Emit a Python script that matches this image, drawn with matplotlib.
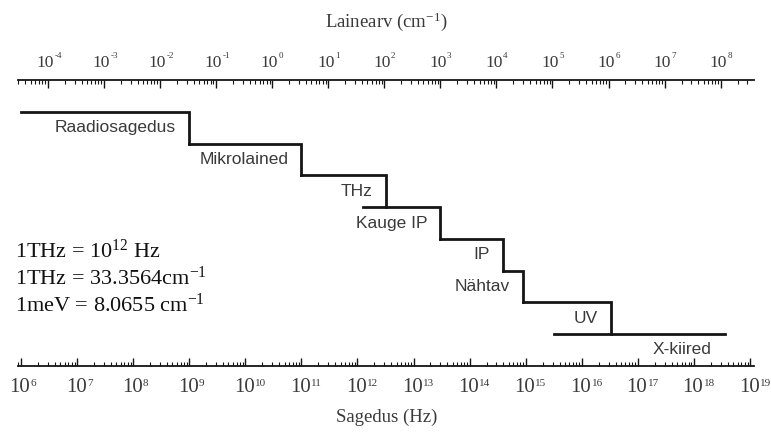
import numpy as np
import matplotlib
matplotlib.use('Agg')
import matplotlib.pyplot as plt
from matplotlib.ticker import LogLocator, NullFormatter

# spectrum bands: name, start / end frequency (Hz), step level
bands = ['Raadiosagedus', 'Mikrolained', 'THz', 'Kauge IP', 'IP', 'Nähtav', 'UV', 'X-kiired']
f_start = [1e6, 1e9, 1e11, 1.25e12, 3e13, 4e14, 9e14, 3.2e15]
f_end = [1e9, 1e11, 3.2e12, 3e13, 4e14, 9e14, 3.3e16, 3.5e18]
level = [0, 1, 2, 3, 4, 5, 6, 7]

# decades shown on the two axes
hz_decades = np.arange(6, 20)
cm_decades = np.arange(-4, 9)

notes = [r'1THz = $\mathregular{10^{12}}$ Hz',
         r'1THz = 33.3564cm$^{\mathregular{-1}}$',
         r'1meV = 8.0655 cm$^{\mathregular{-1}}$']

C_CM = 2.998e10  # Hz per cm^-1
TXT = '#3a3a3a'
LINE = '#151515'

plt.rcParams['font.family'] = 'Liberation Serif'
plt.rcParams['mathtext.fontset'] = 'custom'
plt.rcParams['mathtext.rm'] = 'Liberation Serif'
plt.rcParams['mathtext.it'] = 'Liberation Serif:italic'
plt.rcParams['mathtext.bf'] = 'Liberation Serif:bold'

fig = plt.figure(figsize=(7.71, 4.32), dpi=100)
ax = fig.add_axes([18/771, 66.5/432, 736/771, 285/432])
ax.set_xscale('log')
ax.set_xlim(10**5.9465, 10**19.07)
ax.set_ylim(7.994, -0.993)

# staircase
for i in range(len(bands)):
    if i < len(bands) - 1:
        xs = [f_start[i], f_end[i], f_end[i]]
        ys = [level[i], level[i], level[i + 1]]
    else:
        xs = [f_start[i], f_end[i]]
        ys = [level[i], level[i]]
    ax.plot(xs, ys, color=LINE, lw=2.0, solid_joinstyle='miter')
    ax.annotate(bands[i], xy=(f_end[i], level[i]), xytext=(-9.5, -11.5),
                textcoords='offset points', ha='right', va='center',
                fontfamily='Liberation Sans', fontsize=12.5, color=TXT)

# bottom axis (Hz)
ax.xaxis.set_major_locator(LogLocator(base=10, numticks=40))
ax.xaxis.set_minor_locator(LogLocator(base=10, subs=np.arange(2, 10), numticks=40))
ax.xaxis.set_major_formatter(NullFormatter())
ax.xaxis.set_minor_formatter(NullFormatter())
ax.tick_params(axis='x', which='major', direction='in', length=6, width=1, color=LINE, top=False)
ax.tick_params(axis='x', which='minor', direction='in', length=3, width=0.8, color=LINE, top=False)
ax.tick_params(axis='y', left=False, labelleft=False)
for s in ['left', 'right', 'top']:
    ax.spines[s].set_visible(False)
ax.spines['bottom'].set_linewidth(1.3)
ax.spines['bottom'].set_color(LINE)

# top axis (wavenumber)
sec = ax.secondary_xaxis('top', functions=(lambda f: f / C_CM, lambda k: k * C_CM))
sec.xaxis.set_major_locator(LogLocator(base=10, numticks=40))
sec.xaxis.set_minor_locator(LogLocator(base=10, subs=np.arange(2, 10), numticks=40))
sec.xaxis.set_major_formatter(NullFormatter())
sec.xaxis.set_minor_formatter(NullFormatter())
sec.tick_params(axis='x', which='major', direction='in', length=6, width=1, color=LINE)
sec.tick_params(axis='x', which='minor', direction='in', length=3, width=0.8, color=LINE)
sec.spines['top'].set_linewidth(1.3)
sec.spines['top'].set_color(LINE)

# decade labels
for n in hz_decades:
    ax.annotate('10', xy=(10.0**n, 0), xycoords=('data', 'axes fraction'),
                xytext=(-0.7, -19), textcoords='offset points', ha='center',
                va='baseline', fontsize=15, color=TXT, annotation_clip=False)
    ax.annotate(str(n), xy=(10.0**n, 0), xycoords=('data', 'axes fraction'),
                xytext=(7.0, -15.0), textcoords='offset points', ha='left',
                va='baseline', fontsize=8, color=TXT, annotation_clip=False)
for k in cm_decades:
    hz = 10.0**k * C_CM
    ax.annotate('10', xy=(hz, 1), xycoords=('data', 'axes fraction'),
                xytext=(-1.8, 9.5), textcoords='offset points', ha='center',
                va='baseline', fontsize=12.5, color=TXT, annotation_clip=False)
    ax.annotate(str(k), xy=(hz, 1), xycoords=('data', 'axes fraction'),
                xytext=(4.8, 16.2), textcoords='offset points', ha='left',
                va='baseline', fontsize=6.5, color=TXT, annotation_clip=False)

fig.text(386/771, 1 - 22/432, r'Lainearv (cm$^{\mathregular{-1}}$)', ha='center',
         va='center', fontsize=13.5, color=TXT)
fig.text(387/771, 1 - 417/432, 'Sagedus (Hz)', ha='center', va='center',
         fontsize=13.5, color=TXT)

for i, s in enumerate(notes):
    fig.text(15/771, 1 - (258 + 27*i)/432, s, ha='left', va='baseline',
             fontsize=16, color='#111111')

fig.savefig('out.png', dpi=100)
